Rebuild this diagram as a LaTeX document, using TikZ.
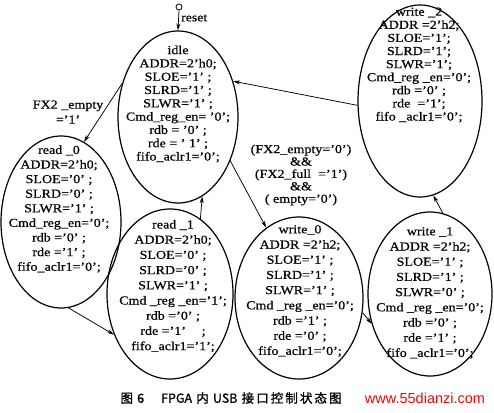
\documentclass[tikz,border=0pt]{standalone}
\usepackage{fontspec}
\setmainfont{Liberation Serif}[FakeStretch=1.15,FakeBold=0.6]
\newfontfamily\cjk{Noto Sans CJK SC}[FakeBold=1.2]
\newfontfamily\wmfont{Liberation Sans}
\usetikzlibrary{arrows.meta,shapes.geometric}

\begin{document}
\begin{tikzpicture}[x=1pt,y=-1pt,font=\fontsize{12}{13.4}\selectfont,
  state/.style={draw,ellipse,line width=1.2pt,inner sep=0pt},
  statetext/.style={align=center,inner sep=0pt,font=\fontsize{12.2}{#1}\selectfont},
  statetext/.default=13.4,
  trans/.style={-{Stealth[length=7pt,width=4pt]},line width=0.75pt}]
\useasboundingbox (0,0) rectangle (494,412);
% states
\foreach \name/\x/\y/\w/\h in {idle/178/117/120/172,read0/61/222/120/172,
  read1/170/294/126/170,write0/299/298/128/162,
  write1/430/294/124/164,write2/420/101/124/192}{
\node[state,minimum width=\w pt,minimum height=\h pt] (\name) at (\x,\y) {};}
\node[statetext=13.3] (idle-t) at (178,104) {idle\\ADDR=2'h0;\\SLOE='1' ;\\SLRD='1' ;\\SLWR='1' ;\\Cmd\_reg\_en= '0';\\rdb = '0' ;\\rde = ' 1' ;\\fifo\_aclr1='0';};
\node[statetext=14.6] (read0-t) at (59,209) {read \_0\\ADDR=2'h0;\\SLOE='0' ;\\SLRD='0' ;\\SLWR='1' ;\\Cmd\_reg\_en='0';\\rdb ='0' ;\\rde ='1' ;\\fifo\_aclr1='0';};
\node[statetext=15.2] (read1-t) at (173,286) {read \_1\\ADDR=2'h0;\\SLOE='0' ;\\SLRD='0' ;\\SLWR='1' ;\\Cmd \_reg \_en='1';\\rdb ='0' ;\\rde ='1' \quad ;\\fifo\_aclr1='1';};
\node[statetext=15.2] (write0-t) at (300,291) {write\_0\\ADDR =2'h2;\\SLOE='1' ;\\SLRD='1' ;\\SLWR='1' ;\\Cmd \_reg \_en='0';\\rdb ='1' ;\\rde ='0' ;\\fifo\_aclr1='0';};
\node[statetext=15.2] (write1-t) at (430,293) {write \_1\\ADDR =2'h2;\\SLOE='1' ;\\SLRD='1' ;\\SLWR='0' ;\\Cmd \_reg \_en='0';\\rdb ='0' ;\\rde ='1' ;\\fifo \_aclr1='0';};
\node[statetext=13.1] (write2-t) at (419,65) {write \_2\\ADDR =2'h2;\\SLOE='1';\\SLRD='1';\\SLWR='1';\\Cmd\_reg \_en='0';\\rdb ='0' ;\\rde \ ='1';\\fifo \_aclr1='0';};
% reset
\node[circle,draw,inner sep=0pt,minimum size=6pt,line width=0.8pt] (rst) at (179,7) {};
\node[anchor=west,inner sep=0pt] (rst-l) at (181,18) {reset};
\draw[trans] (rst.south) -- (idle.north);
% transitions
\draw[trans] (idle.149) -- (read0.74);
\draw[trans] (read0.275) -- (read1.216);
\draw[trans] (read1.68) -- (idle.287);
\draw[trans] (idle.320) -- (write0.115);
\draw[trans] (write0.347) -- (write1.207);
\draw[trans] (write1.81) -- (write2.278);
\draw[trans] (write2.184) -- (idle.33);
\node[statetext=15] (cond-r0) at (68,112) {FX2 \_empty\\='1'};
\node[statetext=12.4] (cond-w0) at (301,175) {(FX2\_empty='0')\\\&\&\\(FX2\_full \ ='1')\\\&\&\\( empty='0')};
% caption
\node[font=\cjk\fontsize{12.5}{13}\selectfont,anchor=west] (caption) at (117,398)
  {图\,\,6\hspace{17pt}FPGA\,\,内\,\,USB\,\,接\,口\,控\,制\,状\,态\,图};
\node[font=\wmfont\fontsize{14.5}{15}\selectfont,text=red] (mark) at (425,398) {www.55dianzi.com};
\end{tikzpicture}
\end{document}
